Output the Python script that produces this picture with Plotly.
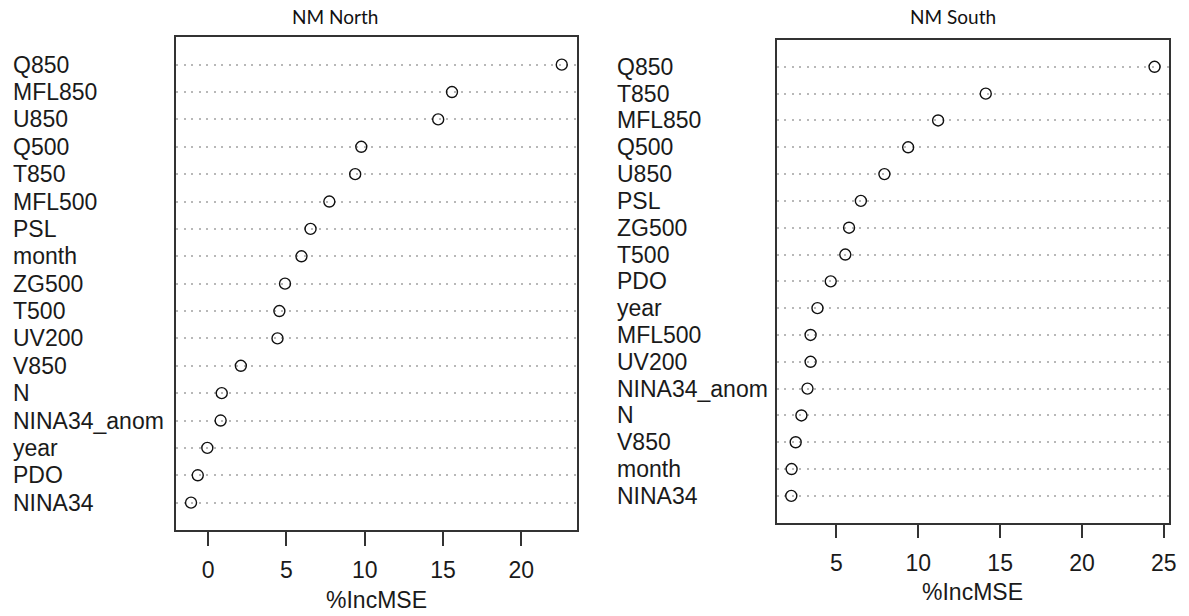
import plotly.graph_objects as go

W, H = 1189, 616

north_vars = ["Q850", "MFL850", "U850", "Q500", "T850", "MFL500", "PSL", "month",
              "ZG500", "T500", "UV200", "V850", "N", "NINA34_anom", "year", "PDO", "NINA34"]
north_vals = [22.58, 15.57, 14.69, 9.78, 9.39, 7.74, 6.54, 5.96,
              4.91, 4.55, 4.43, 2.09, 0.87, 0.80, -0.05, -0.66, -1.09]

south_vars = ["Q850", "T850", "MFL850", "Q500", "U850", "PSL", "ZG500", "T500",
              "PDO", "year", "MFL500", "UV200", "NINA34_anom", "N", "V850", "month", "NINA34"]
south_vals = [24.43, 14.12, 11.21, 9.38, 7.93, 6.49, 5.77, 5.54,
              4.65, 3.84, 3.42, 3.42, 3.23, 2.86, 2.51, 2.26, 2.24]

north_ticks = [0, 5, 10, 15, 20]
south_ticks = [5, 10, 15, 20, 25]

titles = ["NM North", "NM South"]
xtitle = "%IncMSE"

LABEL_FONT = dict(family="Liberation Sans, Arial, sans-serif", size=23, color="#1a1a1a")
TITLE_FONT = dict(family="Lato, Noto Sans, sans-serif", size=19, color="#111111")

fig = go.Figure()

panels = [
    dict(vars=north_vars, vals=north_vals, ticks=north_ticks,
         xdom=[177.4 / W, 580.5 / W], ydom=[1 - 530 / H, 1 - 37.3 / H],
         label_x=11.5 / W, title_x=337 / W, xt_y=1 - 600 / H),
    dict(vars=south_vars, vals=south_vals, ticks=south_ticks,
         xdom=[782 / W, 1177 / W], ydom=[1 - 522.7 / H, 1 - 40 / H],
         label_x=619.5 / W, title_x=959 / W, xt_y=1 - 592 / H),
]

annotations = []
for k, p in enumerate(panels):
    n = len(p["vars"])
    ypos = [n - i for i in range(n)]
    xa = "x" if k == 0 else "x2"
    ya = "y" if k == 0 else "y2"
    fig.add_trace(go.Scatter(
        x=p["vals"], y=ypos, mode="markers", xaxis=xa, yaxis=ya,
        marker=dict(symbol="circle-open", size=11, color="#111111",
                    line=dict(width=1.4, color="#111111")),
        showlegend=False, hoverinfo="x+text", text=p["vars"]))
    vmin, vmax = min(p["vals"]), max(p["vals"])
    pad = 0.04 * (vmax - vmin)
    axkey = "xaxis" if k == 0 else "xaxis2"
    aykey = "yaxis" if k == 0 else "yaxis2"
    fig.layout[axkey] = dict(
        domain=p["xdom"], anchor=ya, range=[vmin - pad, vmax + pad],
        tickmode="array", tickvals=p["ticks"], ticks="outside", ticklen=14,
        tickwidth=1.5, tickcolor="#333333", showgrid=False, zeroline=False,
        showline=True, mirror=True, linecolor="#333333", linewidth=1.5,
        tickfont=LABEL_FONT, ticklabelstandoff=5)
    fig.layout[aykey] = dict(
        domain=p["ydom"], anchor=xa, range=[0, n + 1],
        tickmode="array", tickvals=ypos, showticklabels=False, ticks="",
        showgrid=True, gridcolor="#b8b8b8", griddash="2px,5.5px", gridwidth=1.6,
        zeroline=False, showline=True, mirror=True, linecolor="#333333", linewidth=1.5)
    for name, yv in zip(p["vars"], ypos):
        annotations.append(dict(
            text=name, xref="paper", yref=ya, x=p["label_x"], y=yv,
            xanchor="left", yanchor="middle", showarrow=False, font=LABEL_FONT))
    annotations.append(dict(
        text=titles[k], xref="paper", yref="paper", x=p["title_x"], y=1 - 16.5 / H,
        xanchor="center", yanchor="middle", showarrow=False, font=TITLE_FONT))
    annotations.append(dict(
        text=xtitle, xref="paper", yref="paper", x=(p["xdom"][0] + p["xdom"][1]) / 2,
        y=p["xt_y"], xanchor="center", yanchor="middle", showarrow=False, font=LABEL_FONT))

fig.update_layout(
    width=W, height=H, margin=dict(l=0, r=0, t=0, b=0),
    paper_bgcolor="white", plot_bgcolor="white",
    annotations=annotations, showlegend=False)

fig.write_html("out.html")
